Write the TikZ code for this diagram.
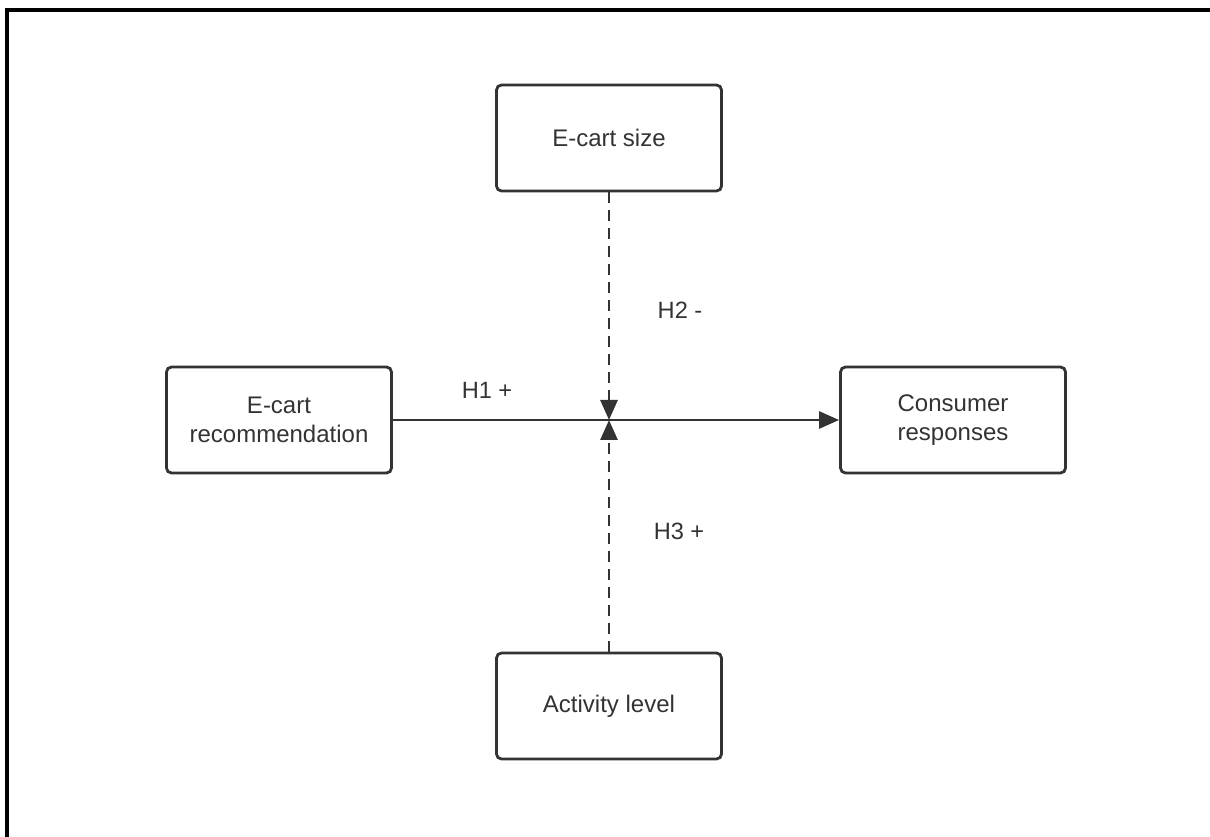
\documentclass[tikz,border=0pt]{standalone}
\usepackage{fontspec}
\setmainfont{Liberation Sans}
\usetikzlibrary{arrows.meta}
\definecolor{linegray}{HTML}{333333}
\tikzset{
  varbox/.style={draw=linegray, line width=1.4pt, rounded corners=2.5pt,
    minimum width=112.5pt, minimum height=53pt, align=center,
    text=linegray, font=\fontsize{12}{14.5}\selectfont},
  effect/.style={draw=linegray, line width=1.4pt,
    -{Triangle[length=10pt,width=8.5pt]}},
  moderator/.style={effect, dash pattern=on 5.5pt off 3.5pt},
  hyplabel/.style={text=linegray, font=\fontsize{11.8}{14}\selectfont}
}
\begin{document}
\begin{tikzpicture}[x=0.5pt,y=0.5pt]
    \useasboundingbox (0,0) rectangle (1210,836);
    % Frame
    \draw[line width=1.6pt] (7,-20) -- (7,826) -- (1230,826);

    % Variables
    \node[varbox] (rec) at (279,416) {E-cart\\recommendation};
    \node[varbox] (resp) at (953,416) {Consumer\\responses};
    \node[varbox] (size) at (609,698) {E-cart size};
    \node[varbox] (act) at (609,130) {Activity level};
    \coordinate (hub) at (609,416);

    % Main effect
    \draw[effect] (rec) -- (resp);

    % Moderators
    \draw[moderator] (size) -- (hub);
    \draw[moderator] (act) -- (hub);

    % Hypotheses
    \node[hyplabel] (h1) at (487,446) {H1 +};
    \node[hyplabel] (h2) at (680,526) {H2 -};
    \node[hyplabel] (h3) at (679,305) {H3 +};
\end{tikzpicture}
\end{document}
